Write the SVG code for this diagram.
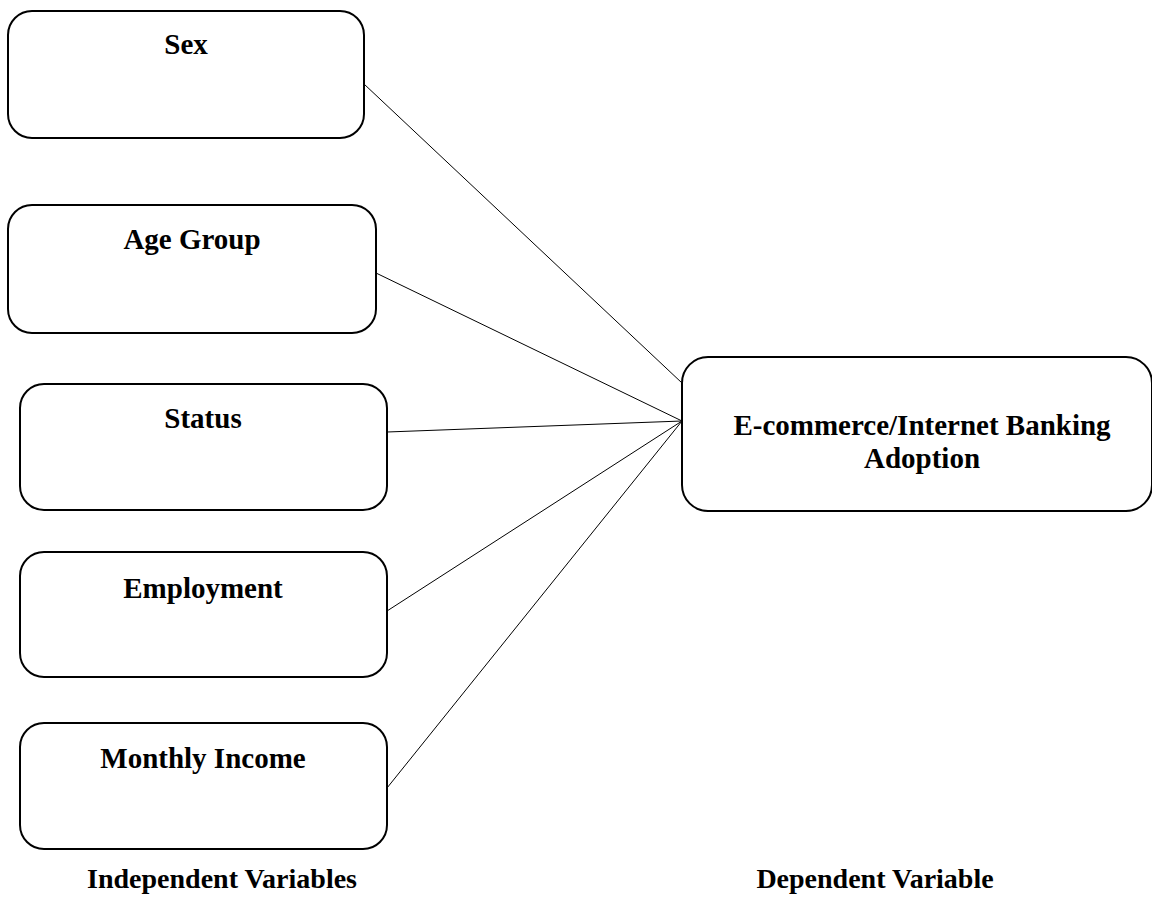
<svg xmlns="http://www.w3.org/2000/svg" width="1152" height="909" viewBox="0 0 1152 909">
<style>
.box{fill:#fff;stroke:#000;stroke-width:2}
.lbl{font-family:"Liberation Serif","Times New Roman",serif;font-weight:bold;font-size:29px;fill:#000;text-anchor:middle}
.cap{font-family:"Liberation Serif","Times New Roman",serif;font-weight:bold;font-size:28px;fill:#000;text-anchor:middle}
.conn line{stroke:#000;stroke-width:1}
</style>
<rect width="1152" height="909" fill="#fff"/>
<g id="connectors" class="conn">
<line x1="364" y1="84" x2="682" y2="383"/>
<line x1="376" y1="273" x2="682" y2="421"/>
<line x1="387" y1="432" x2="682" y2="421"/>
<line x1="387" y1="611" x2="682" y2="421"/>
<line x1="387" y1="788" x2="682" y2="421"/>
</g>
<g id="sex"><rect class="box" x="8" y="11" width="356" height="127" rx="24"/><text class="lbl" x="186" y="54">Sex</text></g>
<g id="age"><rect class="box" x="8" y="205" width="368" height="128" rx="24"/><text class="lbl" x="192" y="249">Age Group</text></g>
<g id="status"><rect class="box" x="20" y="384" width="367" height="126" rx="24"/><text class="lbl" x="203" y="428">Status</text></g>
<g id="employment"><rect class="box" x="20" y="552" width="367" height="125" rx="24"/><text class="lbl" x="203" y="598">Employment</text></g>
<g id="income"><rect class="box" x="20" y="723" width="367" height="126" rx="24"/><text class="lbl" x="203" y="768">Monthly Income</text></g>
<g id="adoption"><rect class="box" x="682" y="357" width="470" height="154" rx="26"/><text class="lbl" x="922" y="435">E-commerce/Internet Banking</text><text class="lbl" x="922" y="468">Adoption</text></g>
<g id="captions">
<text class="cap" x="222" y="888">Independent Variables</text>
<text class="cap" x="875" y="888">Dependent Variable</text>
</g>
</svg>
